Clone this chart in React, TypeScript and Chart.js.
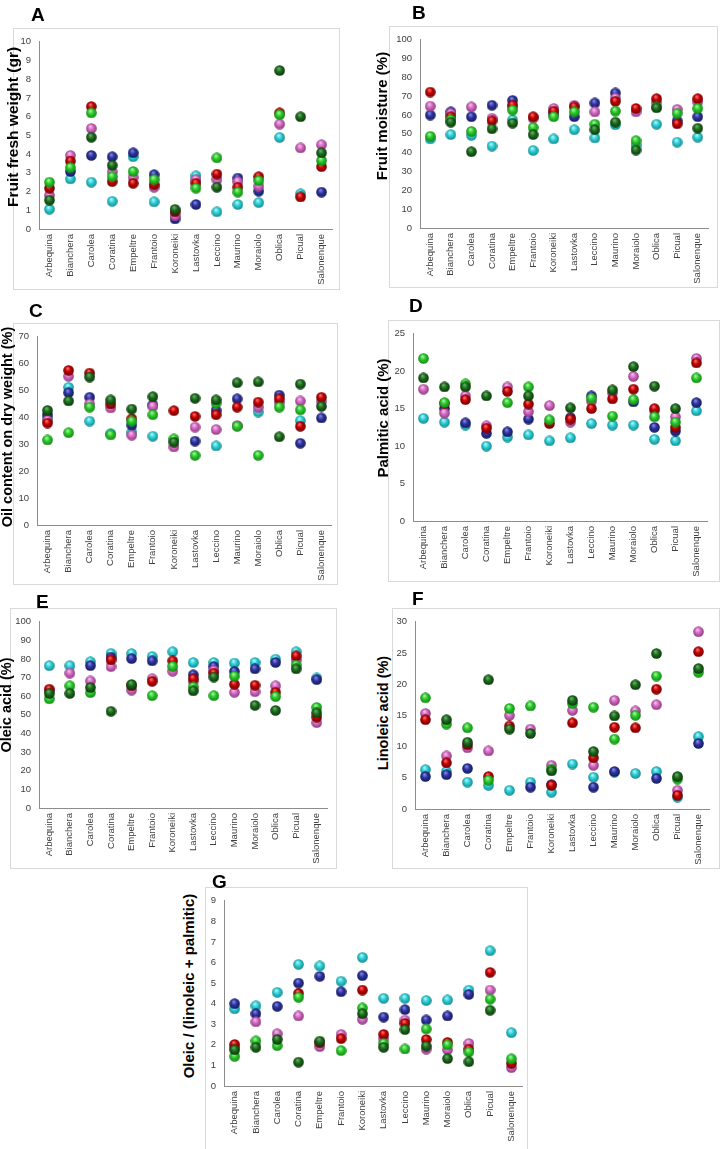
import React, { useEffect, useRef } from 'react';
import { Chart, registerables } from 'chart.js';
Chart.register(...registerables);

const FONT = '"Liberation Sans", Arial, Helvetica, sans-serif';

const cultivars = ['Arbequina', 'Bianchera', 'Carolea', 'Coratina', 'Empeltre', 'Frantoio', 'Koroneiki', 'Lastovka', 'Leccino', 'Maurino', 'Moraiolo', 'Oblica', 'Picual', 'Salonenque'];

// A - Fruit fresh weight (gr)
const weightDkGreen = [1.54, null, 4.9, 3.4, null, null, 1.05, null, 2.23, null, null, 8.46, 5.99, 4.07];
const weightGreen = [2.5, 3.28, 6.2, 2.79, 3.07, 2.64, null, 2.18, 3.8, 1.97, 2.58, 6.1, null, 3.66];
const weightRed = [2.18, 3.63, 6.54, 2.53, 2.44, 2.37, 0.92, 2.44, 2.93, 2.23, 2.79, 6.2, 1.71, 3.33];
const weightPink = [1.8, 3.93, 5.37, 3.05, 2.76, 2.23, 0.7, 2.64, 2.64, 2.53, 2.28, 5.6, 4.33, 4.5];
const weightBlue = [null, 3.07, 3.93, 3.86, 4.07, 2.9, 0.54, 1.31, null, 2.72, 2.02, null, null, 1.97];
const weightCyan = [1.06, 2.67, 2.5, 1.48, 3.86, 1.45, null, 2.84, 0.92, 1.31, 1.41, 4.89, 1.88, null];

// B - Fruit moisture (%)
const moistDkGreen = [null, 56.2, 40.5, 52.7, 55.7, 49.6, null, null, 52.2, 56.2, 41.4, 63.8, null, 53];
const moistGreen = [48.7, 57.4, 51.3, null, 62.6, 53.4, 59.1, 61.7, 55.1, 62.1, 46.4, 64.3, 60.9, 63.5];
const moistRed = [72.2, 59.1, null, 56.9, 65.2, 59.1, 62.1, 64.3, null, 67.3, 63.5, 68.7, 55.3, 68.7];
const moistPink = [64.7, 60.9, 64.3, 58.3, 64.3, 58.3, 63.5, 65.2, 61.7, 69, 61.7, 66.6, 63, 67];
const moistBlue = [60, 61.7, 59.1, 65.2, 67.8, null, 60.9, 59.1, 66.4, 71.7, null, null, 56.9, 59.1];
const moistCyan = [47.3, 49.6, 49.2, 43.5, 57.4, 41.2, 47.3, 52.2, 47.8, 54.8, 44, 55.1, 45.6, 48.2];

// C - Oil content on dry weight (%)
const oilDkGreen = [42.6, 46.1, 55, 46.5, 43.1, 47.7, 30.8, 47.1, 46.5, 52.9, 53.2, 32.8, 52.4, 44.1];
const oilGreen = [31.6, 34.3, 43.8, 33.5, 38.6, 41, 32, 25.9, 45.3, 36.7, 25.9, 43.8, 42.8, null];
const oilRed = [37.9, 57.5, 56.5, 45, 39.5, null, 42.5, 40.4, 41, 43.8, 45.7, 46.9, 36.7, 47.5];
const oilPink = [38.9, 55.3, 45, 43.5, 33.4, 44.1, 29, 36.4, 35.5, 37, 43.8, 45.5, 46.1, 45.9];
const oilBlue = [41, 49.2, 47.5, null, 37.1, 44.7, null, 31.2, 42.6, 46.9, null, 48.3, 30.4, 39.8];
const oilCyan = [39.8, 51.2, 38.6, 34, 34.5, 33, null, null, 29.4, null, 42, null, 38.8, null];

// D - Palmitic acid (%)
const palmDkGreen = [19.1, 17.9, 17.9, 16.7, null, 16.7, null, 15.1, null, 17.5, 20.6, 18, 15, null];
const palmGreen = [21.7, 15.8, 18.3, null, 15.8, 17.9, 13.5, null, 16.4, 14, 16.2, 13.9, 13.2, 19.1];
const palmRed = [null, 15.7, 16.2, 12.4, 17.3, 15.6, 13, 13.6, 15, 16.3, 17.6, 15, 12.5, 21.1];
const palmPink = [17.6, 14.4, 16.7, 12.7, 17.9, 14.6, 15.4, 13.2, 16, 17.1, 19.3, 14.7, 13.9, 21.7];
const palmBlue = [null, 15, 13.1, 11.7, 11.9, 13.6, null, 13.8, 16.7, null, 15.9, 12.5, 12, 15.8];
const palmCyan = [13.7, 13.2, 12.8, 10, 11.2, 11.5, 10.7, 11.1, 13, 12.8, 12.8, 10.9, 10.7, 14.7];

// E - Oleic acid (%)
const oleicDkGreen = [61.5, 61.5, 64.7, 51.9, 66.3, null, null, 62.9, 70.3, null, 55.1, 52.4, 74.7, 51];
const oleicGreen = [58.6, 65.6, 61.9, null, null, 60.3, 76, 65, 60.3, 70.8, null, 59.8, 76.7, 54];
const oleicRed = [63.8, null, null, 79.5, 65.6, 68, 79, 69.4, 72.4, 66.4, 65.9, 62.1, 81.6, 48.8];
const oleicPink = [63, 72.4, 68.2, 75.9, 63.3, 69.4, 73.4, 68, 73.8, 62.1, 62.4, 65.6, 79.5, 45.8];
const oleicBlue = [null, null, 76.4, 81, 80.2, 79, null, 71.5, 75.9, 73.3, 74.7, 78.1, null, 68.9];
const oleicCyan = [76.4, 76.4, 78.5, 83, 82.9, 81.3, 83.9, 78.1, 78.1, 77.8, 78.1, 79.9, 83.9, 69.8];

// F - Linoleic acid (%)
const linDkGreen = [null, 14.3, 10.7, 20.7, 12.8, 12.1, 6.1, 17.4, 9.2, 14.9, 19.9, 24.9, 5.2, 22.5];
const linGreen = [17.8, 13.6, 13, 4.6, 16.1, 16.5, 6.4, 16.9, 16.3, 11.2, 15, 21.3, 4.8, 21.9];
const linRed = [14.3, 7.4, 10.3, 5.2, 13.3, null, 3.8, 13.8, 8.2, 13.1, 13, 19.2, 2.2, 25.2];
const linPink = [15.3, 8.5, 9.8, 9.3, 15, 12.8, 7, 15.8, 7, 17.4, 15.7, 16.7, 3, 28.4];
const linBlue = [5.2, 5.5, 6.5, null, null, 3.5, 3.9, null, 3.5, 6, null, 4.9, null, 10.5];
const linCyan = [6.3, 6, 4.3, 3.8, 3, 4.3, 2.7, 7.2, 5.1, 5.9, 5.7, 6, 1.9, 11.6];

// G - Oleic / (linoleic + palmitic)
const ratioDkGreen = [1.76, 1.88, 2.26, 1.16, 2.18, null, 3.51, 1.88, 2.74, 1.94, 1.33, 1.18, 3.68, null];
const ratioGreen = [1.44, 2.19, 1.96, 4.31, null, 1.72, 3.79, 2.07, 1.8, 2.77, 2.0, 1.65, 4.22, 1.32];
const ratioRed = [2.02, null, null, 4.5, 2.1, 2.3, 4.66, 2.51, 3.04, 2.26, 2.12, 1.79, 5.52, 1.1];
const ratioPink = [1.88, 3.12, 2.54, 3.4, 1.91, 2.51, 3.24, 2.3, 3.2, 1.79, 1.76, 2.07, 4.66, 0.89];
const ratioBlue = [4.0, 3.51, 3.87, 5.0, 5.33, 4.58, 5.36, 3.35, 3.71, 3.21, 3.4, 4.45, null, null];
const ratioCyan = [3.75, 3.9, 4.55, 5.91, 5.83, 5.09, 6.25, 4.26, 4.26, 4.15, 4.18, 4.66, 6.57, 2.59];

type Box = { l: number; t: number; r: number; b: number };
type PanelCfg = {
  letter: string; letterX: number; letterY: number;
  title: string; titleX: number; titleY: number; titleSize: number;
  box: Box; plot: Box; max: number; step: number;
  series: (number | null)[][];
};

const SERIES_STYLE = [
  { name: 'dark green', base: '#1d6b1d', light: '#66b066', dark: '#093509' },
  { name: 'green', base: '#2bc92b', light: '#a4f7a4', dark: '#118511' },
  { name: 'red', base: '#c20000', light: '#ff6a6a', dark: '#6a0000' },
  { name: 'pink', base: '#d36ac3', light: '#f5bdec', dark: '#8a377c' },
  { name: 'blue', base: '#2e339e', light: '#8287e6', dark: '#14185a' },
  { name: 'cyan', base: '#2dcfd5', light: '#b0f7f9', dark: '#12878c' },
];

function makeSphere(base: string, light: string, dark: string, d = 11) {
  const c = document.createElement('canvas');
  c.width = d; c.height = d;
  const g = c.getContext('2d')!;
  const r = d / 2;
  const grad = g.createRadialGradient(r * 0.8, r * 0.6, 0.4, r, r, r);
  grad.addColorStop(0, light);
  grad.addColorStop(0.45, base);
  grad.addColorStop(1, dark);
  g.fillStyle = grad;
  g.beginPath();
  g.arc(r, r, r - 0.2, 0, Math.PI * 2);
  g.fill();
  return c;
}

const panels: PanelCfg[] = [
  { letter: 'A', letterX: 31, letterY: 5, title: 'Fruit fresh weight (gr)', titleX: 12.5, titleY: 127, titleSize: 15.5,
    box: { l: 13, t: 28, r: 340, b: 290 }, plot: { l: 39, r: 332, t: 38, b: 229 }, max: 10, step: 1,
    series: [weightDkGreen, weightGreen, weightRed, weightPink, weightBlue, weightCyan] },
  { letter: 'B', letterX: 412, letterY: 3, title: 'Fruit moisture (%)', titleX: 381, titleY: 116, titleSize: 15,
    box: { l: 389, t: 26, r: 718, b: 288 }, plot: { l: 420, r: 708, t: 37, b: 228 }, max: 100, step: 10,
    series: [moistDkGreen, moistGreen, moistRed, moistPink, moistBlue, moistCyan] },
  { letter: 'C', letterX: 29, letterY: 301, title: 'Oil content on dry weight (%)', titleX: 7, titleY: 427, titleSize: 14.5,
    box: { l: 13, t: 323, r: 338, b: 585 }, plot: { l: 37, r: 333, t: 334, b: 525 }, max: 70, step: 10,
    series: [oilDkGreen, oilGreen, oilRed, oilPink, oilBlue, oilCyan] },
  { letter: 'D', letterX: 409, letterY: 296, title: 'Palmitic acid (%)', titleX: 382, titleY: 418, titleSize: 15,
    box: { l: 388, t: 320, r: 720, b: 582 }, plot: { l: 413, r: 707, t: 331, b: 521 }, max: 25, step: 5,
    series: [palmDkGreen, palmGreen, palmRed, palmPink, palmBlue, palmCyan] },
  { letter: 'E', letterX: 36, letterY: 592, title: 'Oleic acid (%)', titleX: 6, titleY: 705, titleSize: 14.5,
    box: { l: 10, t: 608, r: 337, b: 869 }, plot: { l: 39, r: 327, t: 618, b: 808 }, max: 100, step: 10,
    series: [oleicDkGreen, oleicGreen, oleicRed, oleicPink, oleicBlue, oleicCyan] },
  { letter: 'F', letterX: 412, letterY: 589, title: 'Linoleic acid (%)', titleX: 383, titleY: 713, titleSize: 14.5,
    box: { l: 392, t: 608, r: 720, b: 869 }, plot: { l: 415, r: 709, t: 618, b: 809 }, max: 30, step: 5,
    series: [linDkGreen, linGreen, linRed, linPink, linBlue, linCyan] },
  { letter: 'G', letterX: 212, letterY: 872, title: 'Oleic / (linoleic + palmitic)', titleX: 188, titleY: 986, titleSize: 15,
    box: { l: 205, t: 887, r: 528, b: 1160 }, plot: { l: 224, r: 523, t: 895, b: 1086 }, max: 9, step: 1,
    series: [ratioDkGreen, ratioGreen, ratioRed, ratioPink, ratioBlue, ratioCyan] },
];

function Panel({ cfg }: { cfg: PanelCfg }) {
  const ref = useRef<HTMLCanvasElement>(null);
  const cl = cfg.box.l;
  const ct = cfg.box.t;
  const cw = cfg.box.r - cfg.box.l;
  const cb = Math.min(cfg.box.b, 1149);
  const ch = cb - ct;

  useEffect(() => {
    const sprites = SERIES_STYLE.map((s) => makeSphere(s.base, s.light, s.dark));
    const chart = new Chart(ref.current!, {
      type: 'line',
      data: {
        labels: cultivars,
        datasets: SERIES_STYLE.map((s, i) => ({
          label: s.name,
          data: cfg.series[i],
          showLine: false,
          pointStyle: sprites[i] as any,
          pointRadius: 5.5,
          pointHoverRadius: 5.5,
          borderWidth: 0,
          backgroundColor: s.base,
          borderColor: s.base,
        })),
      },
      options: {
        animation: false,
        responsive: false,
        maintainAspectRatio: false,
        events: [],
        layout: { padding: { left: 0, top: cfg.plot.t - ct, right: cfg.box.r - cfg.plot.r, bottom: 0 } },
        plugins: { legend: { display: false }, tooltip: { enabled: false }, title: { display: false } },
        scales: {
          x: {
            type: 'category',
            offset: true,
            grid: { display: false, drawTicks: false },
            border: { display: true, color: '#8c8c8c', width: 1 },
            ticks: { autoSkip: false, maxRotation: 90, minRotation: 90, padding: 5, color: '#404040', font: { family: FONT, size: 9.5 } },
            afterFit: (scale: any) => { scale.height = cb - cfg.plot.b; },
          },
          y: {
            min: 0,
            max: cfg.max,
            grid: { display: false, drawTicks: false },
            border: { display: true, color: '#8c8c8c', width: 1 },
            ticks: { stepSize: cfg.step, padding: 8, color: '#404040', font: { family: FONT, size: 9.5 } },
            afterFit: (scale: any) => { scale.width = cfg.plot.l - cl; },
          },
        },
      },
    } as any);
    return () => chart.destroy();
  }, []);

  return (
    <>
      <div style={{ position: 'absolute', left: cfg.box.l, top: cfg.box.t, width: cw, height: cfg.box.b - cfg.box.t, border: '1px solid #d9d9d9', boxSizing: 'border-box', background: '#fff' }} />
      <canvas ref={ref} width={cw} height={ch} style={{ position: 'absolute', left: cl, top: ct, width: cw, height: ch }} />
      <div style={{ position: 'absolute', left: cfg.titleX, top: cfg.titleY, transform: 'translate(-50%, -50%) rotate(-90deg)', whiteSpace: 'nowrap', fontFamily: FONT, fontWeight: 'bold', fontSize: cfg.titleSize, lineHeight: 1, color: '#000' }}>{cfg.title}</div>
      <div style={{ position: 'absolute', left: cfg.letterX, top: cfg.letterY, fontFamily: FONT, fontWeight: 'bold', fontSize: 19, lineHeight: 1, color: '#000' }}>{cfg.letter}</div>
    </>
  );
}

export default function App() {
  return (
    <div style={{ position: 'absolute', left: 0, top: 0, width: 720, height: 1149, overflow: 'hidden', background: '#fff' }}>
      {panels.map((p) => <Panel key={p.letter} cfg={p} />)}
    </div>
  );
}
